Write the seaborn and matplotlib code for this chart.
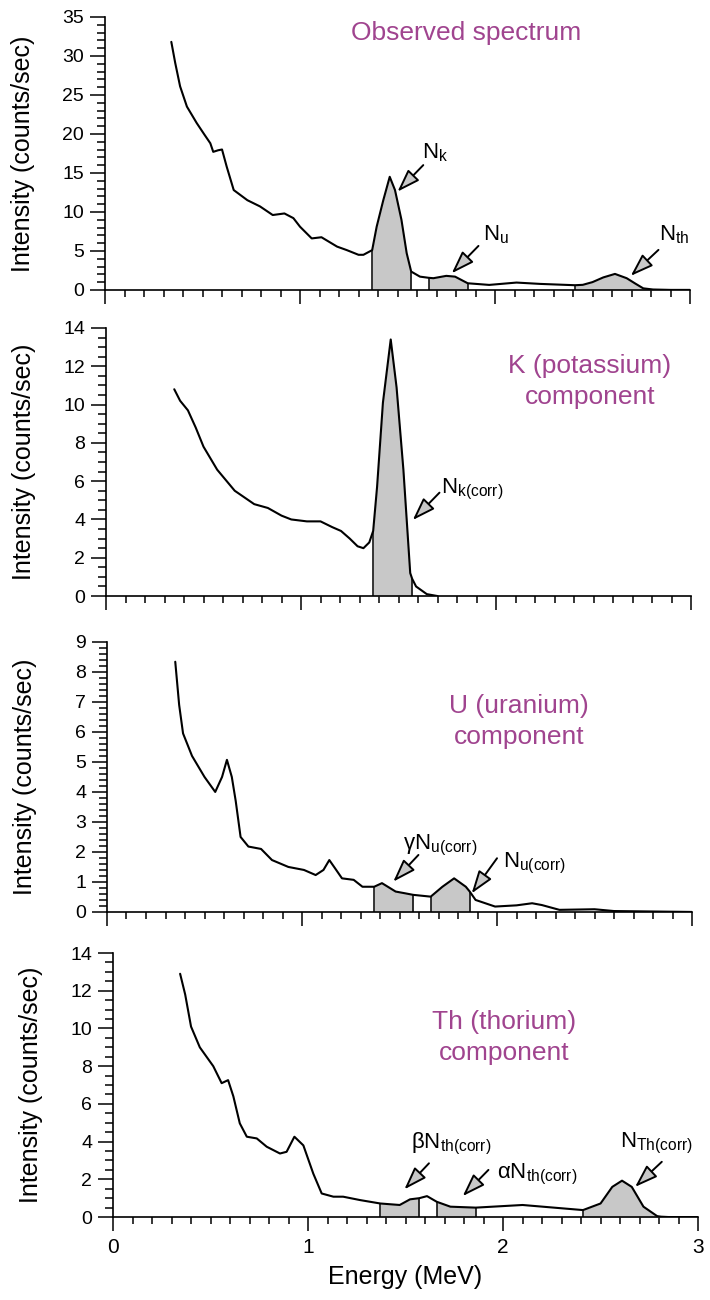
import numpy as np
import matplotlib
matplotlib.use("Agg")
import matplotlib.pyplot as plt
from matplotlib.ticker import MultipleLocator
import seaborn as sns

# ---- data (energy in MeV, intensity in counts/sec) ----
energy_obs = [0.34, 0.36, 0.385, 0.42, 0.47, 0.51, 0.54, 0.555, 0.58, 0.60, 0.624, 0.66,
              0.73, 0.795, 0.86, 0.92, 0.966, 1.00, 1.06, 1.11, 1.19, 1.24, 1.30, 1.325,
              1.37, 1.393, 1.427, 1.46, 1.487, 1.52, 1.547, 1.57, 1.615, 1.66, 1.684, 1.75,
              1.795, 1.86, 1.97, 2.11, 2.23, 2.41, 2.45, 2.50, 2.555, 2.615, 2.675, 2.72,
              2.76, 2.81, 2.9, 3.0]
counts_obs = [31.8, 29.1, 26.1, 23.5, 21.4, 19.9, 18.8, 17.7, 17.9, 18.0, 15.8, 12.8,
              11.5, 10.7, 9.6, 9.8, 9.2, 8.1, 6.6, 6.75, 5.55, 5.1, 4.5, 4.5,
              5.1, 8.1, 11.5, 14.5, 12.8, 9.0, 4.7, 2.35, 1.7, 1.55, 1.5, 1.8,
              1.7, 0.85, 0.64, 0.94, 0.77, 0.6, 0.65, 1.0, 1.6, 2.05, 1.5, 0.8,
              0.2, 0.05, 0.0, 0.0]

energy_k = [0.35, 0.38, 0.42, 0.46, 0.50, 0.57, 0.66, 0.76, 0.83, 0.90, 0.95, 1.03,
            1.10, 1.16, 1.205, 1.25, 1.29, 1.32, 1.35, 1.37, 1.39, 1.42, 1.46, 1.49,
            1.525, 1.56, 1.57, 1.59, 1.645, 1.70]
counts_k = [10.8, 10.2, 9.7, 8.8, 7.8, 6.6, 5.5, 4.8, 4.6, 4.2, 4.0, 3.9,
            3.9, 3.6, 3.4, 3.0, 2.6, 2.5, 2.8, 3.4, 5.7, 10.1, 13.4, 10.9,
            6.6, 1.2, 0.9, 0.5, 0.1, 0.0]

energy_u = [0.35, 0.37, 0.39, 0.436, 0.50, 0.555, 0.59, 0.615, 0.64, 0.66, 0.685, 0.725,
            0.79, 0.846, 0.93, 1.01, 1.07, 1.11, 1.14, 1.17, 1.205, 1.265, 1.31, 1.37,
            1.41, 1.48, 1.53, 1.57, 1.66, 1.72, 1.78, 1.84, 1.86, 1.89, 1.99, 2.10,
            2.18, 2.23, 2.32, 2.50, 2.60, 3.0]
counts_u = [8.34, 6.9, 5.95, 5.2, 4.5, 4.0, 4.5, 5.07, 4.5, 3.7, 2.5, 2.18,
            2.1, 1.73, 1.5, 1.4, 1.23, 1.4, 1.73, 1.45, 1.12, 1.07, 0.84, 0.84,
            0.96, 0.68, 0.62, 0.57, 0.51, 0.84, 1.12, 0.84, 0.68, 0.4, 0.18, 0.22,
            0.29, 0.23, 0.07, 0.09, 0.03, 0.0]

energy_th = [0.344, 0.37, 0.40, 0.445, 0.514, 0.557, 0.59, 0.617, 0.65, 0.686, 0.737, 0.788,
             0.856, 0.89, 0.93, 0.976, 1.027, 1.07, 1.13, 1.18, 1.267, 1.37, 1.47, 1.523,
             1.57, 1.61, 1.66, 1.73, 1.86, 2.10, 2.41, 2.50, 2.56, 2.61, 2.66, 2.72,
             2.79, 2.81, 2.85, 3.0]
counts_th = [12.9, 11.8, 10.1, 9.0, 8.0, 7.1, 7.26, 6.4, 4.97, 4.26, 4.17, 3.73,
             3.37, 3.46, 4.26, 3.8, 2.3, 1.25, 1.08, 1.08, 0.9, 0.72, 0.64, 0.94,
             1.0, 1.11, 0.81, 0.55, 0.5, 0.64, 0.37, 0.72, 1.6, 1.93, 1.6, 0.55,
             0.05, 0.02, 0.0, 0.0]

k_window = (1.37, 1.57)
u_window = (1.66, 1.86)
th_window = (2.41, 2.81)

titles = ["Observed spectrum", "K (potassium)\ncomponent",
          "U (uranium)\ncomponent", "Th (thorium)\ncomponent"]

# ---- style ----
sns.set_style("ticks")
plt.rcParams['font.family'] = ['Liberation Sans', 'DejaVu Sans']
plt.rcParams['mathtext.fontset'] = 'custom'
plt.rcParams['mathtext.rm'] = 'Liberation Sans'
plt.rcParams['mathtext.it'] = 'Liberation Sans'
plt.rcParams['text.color'] = 'black'
plt.rcParams['axes.labelcolor'] = 'black'
plt.rcParams['xtick.color'] = 'black'
plt.rcParams['ytick.color'] = 'black'

title_color = '#a0448f'
fill_color = '#c8c8c8'

fig = plt.figure(figsize=(7.1, 13), dpi=100)
ax1 = fig.add_axes([0.1479, 0.777, 0.824, 0.210])
ax2 = fig.add_axes([0.1493, 0.5415, 0.824, 0.2062])
ax3 = fig.add_axes([0.1507, 0.2985, 0.824, 0.2077])
ax4 = fig.add_axes([0.1592, 0.0638, 0.824, 0.2031])


def draw_panel(ax, energy, counts, windows, ymax, ymajor, yminor):
    e = np.array(energy)
    c = np.array(counts)
    for lo, hi in windows:
        m = (e >= lo - 1e-9) & (e <= hi + 1e-9)
        ax.fill_between(e[m], 0, c[m], color=fill_color, lw=0)
        ax.vlines([lo, hi], 0, np.interp([lo, hi], e, c), color='black', lw=1.1)
    sns.lineplot(x=e, y=c, ax=ax, color='black', lw=1.5, estimator=None, sort=False)
    ax.set_xlim(0, 3)
    ax.set_ylim(0, ymax)
    sns.despine(ax=ax)
    for s in ['left', 'bottom']:
        ax.spines[s].set_linewidth(1.2)
        ax.spines[s].set_color('black')
    ax.xaxis.set_major_locator(MultipleLocator(1))
    ax.xaxis.set_minor_locator(MultipleLocator(0.1))
    ax.yaxis.set_major_locator(MultipleLocator(ymajor))
    ax.yaxis.set_minor_locator(MultipleLocator(yminor))
    ax.tick_params(axis='both', which='both', direction='out', color='black', width=1.1)
    ax.tick_params(axis='x', which='major', length=10)
    ax.tick_params(axis='x', which='minor', length=5)
    ax.tick_params(axis='y', which='major', length=11, labelsize=14, pad=4)
    ax.tick_params(axis='y', which='minor', length=6)
    ax.set_ylabel("Intensity (counts/sec)", fontsize=18)
    ax.yaxis.set_label_coords(-0.12, 0.5)
    ax.set_xlabel("")


def arrow(ax, tail, tip):
    ax.annotate('', xy=tip, xytext=tail,
                arrowprops=dict(arrowstyle='-|>,head_length=0.7,head_width=0.24',
                                mutation_scale=20, fc='#c8c8c8', ec='black', lw=1.4,
                                shrinkA=0, shrinkB=0))


draw_panel(ax1, energy_obs, counts_obs, [k_window, u_window, th_window], 35, 5, 1)
draw_panel(ax2, energy_k, counts_k, [k_window], 14, 2, 0.5)
draw_panel(ax3, energy_u, counts_u, [k_window, u_window], 9, 1, 0.2)
draw_panel(ax4, energy_th, counts_th, [k_window, u_window, th_window], 14, 2, 0.5)

for ax in [ax1, ax2, ax3]:
    ax.tick_params(axis='x', labelbottom=False)
ax4.tick_params(axis='x', which='major', labelsize=15, pad=5)
ax4.set_xlabel("Energy (MeV)", fontsize=18, labelpad=6)

# panel titles
ttl = dict(ha='center', va='center', fontsize=19, color=title_color, linespacing=1.4)
ax1.text(0.617, 0.941, titles[0], transform=ax1.transAxes, **ttl)
ax2.text(0.827, 0.80, titles[1], transform=ax2.transAxes, **ttl)
ax3.text(0.704, 0.706, titles[2], transform=ax3.transAxes, **ttl)
ax4.text(0.668, 0.68, titles[3], transform=ax4.transAxes, **ttl)

# annotations
lab = dict(fontsize=16, ha='left', va='baseline')
ax1.text(1.624, 16.9, r'$\mathregular{N_k}$', **lab)
arrow(ax1, (1.632, 16.0), (1.50, 12.6))
ax1.text(1.94, 6.4, r'$\mathregular{N_u}$', **lab)
arrow(ax1, (1.915, 5.64), (1.778, 2.13))
ax1.text(2.84, 6.4, r'$\mathregular{N_{th}}$', **lab)
arrow(ax1, (2.838, 5.13), (2.696, 1.8))

ax2.text(1.72, 5.38, r'$\mathregular{N_{k(corr)}}$', **lab)
arrow(ax2, (1.71, 5.4), (1.573, 3.97))

ax3.text(1.52, 2.07, r'γ$\mathregular{N_{u(corr)}}$', **lab)
arrow(ax3, (1.597, 1.9), (1.468, 1.01))
ax3.text(2.03, 1.5, r'$\mathregular{N_{u(corr)}}$', **lab)
arrow(ax3, (2.0, 1.79), (1.87, 0.62))

ax4.text(1.53, 3.66, r'β$\mathregular{N_{th(corr)}}$', **lab)
arrow(ax4, (1.62, 2.85), (1.494, 1.47))
ax4.text(1.967, 2.07, r'α$\mathregular{N_{th(corr)}}$', **lab)
arrow(ax4, (1.925, 2.5), (1.793, 1.11))
ax4.text(2.6, 3.7, r'$\mathregular{N_{Th(corr)}}$', **lab)
arrow(ax4, (2.814, 2.93), (2.677, 1.6))

fig.savefig("out.png", dpi=100)
